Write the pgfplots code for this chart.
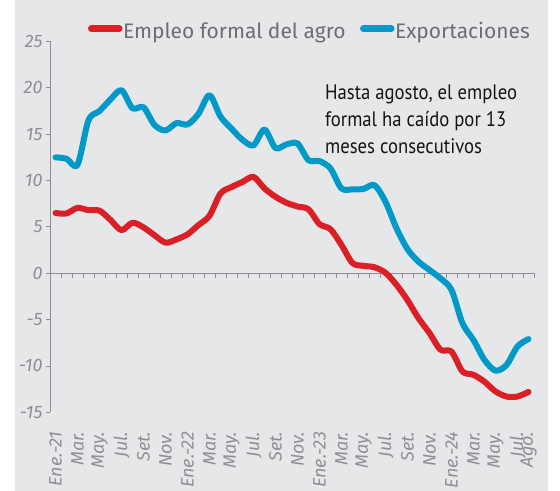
\documentclass[border=0pt]{standalone}
\usepackage{fontspec}
\setmainfont{Fira Sans}
\newfontfamily\notefont[FakeStretch=0.89]{PT Sans}
\usepackage{pgfplots}
\usepackage{pgfplotstable}
\pgfplotsset{compat=1.18}

\definecolor{fondo}{HTML}{E6E7E9}
\definecolor{rojo}{HTML}{DA1F26}
\definecolor{azul}{HTML}{0099C8}
\definecolor{ejes}{HTML}{8E8F92}
\definecolor{leyenda}{HTML}{6D6E71}

% variacion anual (%), ene-2021 a ago-2024
\pgfplotstableread{
i  empleo  export
0   6.5   12.5
1   6.45  12.35
2   7.05  11.7
3   6.8   16.5
4   6.75  17.5
5   5.75  18.75
6   4.65  19.75
7   5.45  17.8
8   4.95  17.9
9   4.1   16.0
10  3.3   15.4
11  3.65  16.2
12  4.2   16.05
13  5.2   17.2
14  6.2   19.2
15  8.6   16.9
16  9.3   15.6
17  9.85  14.4
18  10.4  13.8
19  9.15  15.5
20  8.25  13.5
21  7.6   13.9
22  7.2   14.0
23  6.9   12.2
24  5.3   12.1
25  4.75  11.3
26  3.05  9.15
27  1.1   9.05
28  0.8   9.1
29  0.65  9.5
30  0.05  7.7
31  -1.25 4.85
32  -2.9  2.6
33  -4.85 1.25
34  -6.45 0.35
35  -8.25 -0.55
36  -8.45 -1.8
37  -10.6 -5.4
38  -10.95 -7.2
39  -11.7 -9.35
40  -12.75 -10.5
41  -13.3 -9.9
42  -13.3 -7.9
43  -12.8 -7.1
}\datos

\begin{document}
\begin{tikzpicture}
\useasboundingbox (0bp,0bp) rectangle (560bp,491bp);
\fill[white] (0bp,0bp) rectangle (560bp,491bp);
\fill[fondo] (15bp,0bp) rectangle (548bp,491bp);
\begin{axis}[
    at={(50bp,78.7bp)}, anchor=south west,
    scale only axis, width=484bp, height=370.8bp,
    xmin=-0.5, xmax=43.5, ymin=-15, ymax=25,
    axis y line*=left, axis x line*=bottom,
    axis line style={-, draw=ejes, line width=0.8bp},
    x axis line style={draw=none},
    ytick pos=left, xtick pos=bottom,
    ytick={-15,-10,...,25},
    xtick={0,2,...,42,43},
    xticklabels={Ene.-21,Mar.,May.,Jul.,Set.,Nov.,Ene.-22,Mar.,May.,Jul.,Set.,Nov.,
                 Ene.-23,Mar.,May.,Jul.,Set.,Nov.,Ene.-24,Mar.,May.,Jul.,Ago.},
    tick align=outside, major tick length=4bp,
    ytick style={draw=ejes, line width=0.8bp},
    xtick style={draw=none},
    /pgf/number format/assume math mode=true,
    tick label style={font=\itshape\fontsize{18bp}{18bp}\selectfont, text=ejes},
    x tick label style={yshift=-12bp, rotate=90, anchor=east},
    clip=false,
    legend style={at={(axis description cs:0.072,1.028)}, anchor=west,
                  draw=none, fill=none, legend columns=2,
                  font=\fontsize{21bp}{21bp}\selectfont, text=leyenda,
                  nodes={inner sep=0.5bp},
                  /tikz/every even column/.append style={column sep=14bp}},
    legend image code/.code={\draw[line width=6.5bp, line cap=round] (2bp,2.5bp) -- (30bp,2.5bp);},
]
\draw[ejes, line width=0.8bp] (axis cs:-0.5,0) -- (axis cs:43.5,0);
\pgfplotsinvokeforeach{0.5,1.5,...,43.5}{
  \draw[ejes, line width=0.8bp] (axis cs:#1,0) -- ++(0bp,-5bp);
}
\addplot[rojo, line width=6bp, smooth, tension=0.5, line cap=round, line join=round]
  table[x=i, y=empleo] {\datos};
\addplot[azul, line width=6bp, smooth, tension=0.5, line cap=round, line join=round]
  table[x=i, y=export] {\datos};
\legend{Empleo formal del agro, Exportaciones}
\node[anchor=north west, align=left, inner sep=0pt, text=black!92,
      font=\notefont\fontsize{21bp}{27bp}\selectfont]
  at (axis description cs:0.568,0.885)
  {Hasta agosto, el empleo\\formal ha caído por 13\\meses consecutivos};
\end{axis}
\end{tikzpicture}
\end{document}
